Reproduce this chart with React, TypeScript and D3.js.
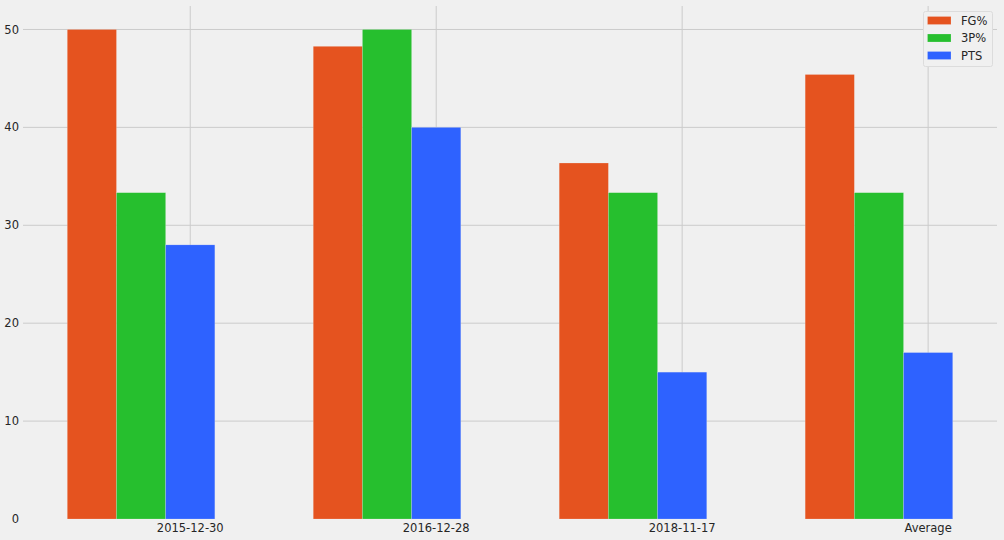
import React from "react";
import * as d3 from "d3";

const categories = ["2015-12-30", "2016-12-28", "2018-11-17", "Average"];
const seriesNames = ["FG%", "3P%", "PTS"];
const fgValues = [50, 48.28, 36.36, 45.4];
const threeValues = [33.33, 50, 33.33, 33.33];
const ptsValues = [28, 40, 15, 17];
const yTicks = [0, 10, 20, 30, 40, 50];
const colors = ["#e5531f", "#26bf2e", "#2e62ff"];

const W = 1004;
const H = 540;
const FONT = "'DejaVu Sans', sans-serif";

export default function App() {
  const allSeries = [fgValues, threeValues, ptsValues];
  const barW = 0.2;
  const x = d3.scaleLinear().domain([-0.68, 3.28]).range([23, 997]);
  const y = d3.scaleLinear().domain([0, 52.5]).range([519, 5]);
  const offsets = [-0.4, -0.2, 0];

  return (
    <svg
      width={W}
      height={H}
      style={{ position: "absolute", left: 0, top: 0, display: "block" }}
      fontFamily={FONT}
    >
      <rect x={0} y={0} width={W} height={H} fill="#f0f0f0" />
      {/* grid */}
      {yTicks.filter((t) => t > 0).map((t) => (
        <line key={"gy" + t} x1={x.range()[0]} x2={x.range()[1]} y1={y(t)} y2={y(t)} stroke="#cbcbcb" strokeWidth={1} />
      ))}
      {categories.map((c, i) => (
        <line key={"gx" + c} x1={x(i)} x2={x(i)} y1={y.range()[1] + 1} y2={y(0)} stroke="#cbcbcb" strokeWidth={1} />
      ))}
      {/* bars */}
      {allSeries.map((vals, s) =>
        vals.map((v, i) => {
          const cx = i + offsets[s];
          const x0 = x(cx - barW / 2);
          const x1 = x(cx + barW / 2);
          return (
            <rect
              key={s + "-" + i}
              x={x0}
              y={y(v)}
              width={x1 - x0}
              height={y(0) - y(v)}
              fill={colors[s]}
              stroke="#f0f0f0"
              strokeWidth={0.5}
              strokeOpacity={0.4}
            />
          );
        })
      )}
      {/* y tick labels */}
      {yTicks.map((t) => (
        <text key={"ty" + t} x={19} y={y(t)} dy="0.35em" textAnchor="end" fontSize={11.5} fill="#262626">
          {t}
        </text>
      ))}
      {/* x tick labels */}
      {categories.map((c, i) => (
        <text key={"tx" + c} x={x(i)} y={532} textAnchor="middle" fontSize={11.5} fill="#262626">
          {c}
        </text>
      ))}
      {/* legend */}
      <g>
        <rect x={923.5} y={11.5} width={69} height={55} rx={2} ry={2} fill="#f0f0f0" stroke="#dcdcdc" strokeWidth={1} />
        {seriesNames.map((n, k) => (
          <g key={n} transform={`translate(0, ${20.5 + k * 17.5})`}>
            <rect x={927.5} y={-4} width={23.5} height={8} fill={colors[k]} stroke="#f0f0f0" strokeWidth={0.5} strokeOpacity={0.4} />
            <text x={961} y={0} dy="0.35em" fontSize={11.5} fill="#262626">
              {n}
            </text>
          </g>
        ))}
      </g>
    </svg>
  );
}
